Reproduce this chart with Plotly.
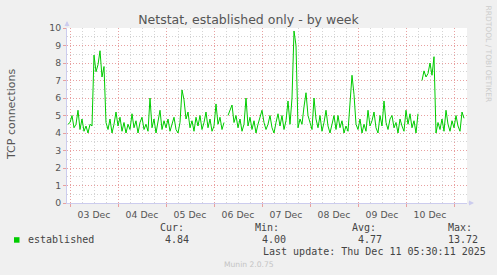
import pandas as pd
import plotly.graph_objects as go

# ---- data (hourly averages of established TCP connections) ----
start_time = "2025-12-02 23:00"
dec02 = [4.5]
dec03 = [4.6, 5.0, 4.3, 4.5, 5.3, 4.2, 4.8, 4.1, 4.4, 4.0, 4.5, 4.4,
         8.45, 7.5, 7.9, 8.7, 7.2, 7.8, 4.6, 4.2, 4.8, 4.0, 4.5, 5.2]
dec04 = [4.4, 4.9, 4.1, 4.6, 4.0, 4.5, 4.2, 5.1, 4.3, 4.7, 4.0, 4.6,
         4.9, 4.2, 4.5, 4.1, 6.0, 4.3, 4.8, 4.0, 4.6, 5.3, 4.2, 4.7]
dec05 = [4.3, 4.8, 4.1, 4.5, 4.9, 4.2, 4.0, 4.6, 6.46, 5.9, 4.8, 5.2,
         4.3, 4.7, 4.1, 4.9, 4.4, 5.0, 4.2, 4.6, 5.2, 4.3, 4.8, 4.1]
dec06 = [4.4, 5.66, 4.5, 4.9, 4.2, 4.6, None, 5.0, 5.3, 5.6, 4.6, 5.0,
         4.3, 4.8, 4.1, 4.5, 6.0, 4.4, 4.9, 4.2, 4.7, 4.0, 4.5, 4.9]
dec07 = [5.3, 4.6, 4.2, 4.5, 5.0, 4.3, 4.0, 4.6, 5.1, 4.4, 5.0, 4.2,
         4.7, 5.83, 4.5, 6.0, 9.83, 9.0, 4.3, 4.8, 4.5, 5.5, 6.3, 5.0]
dec08 = [4.6, 4.2, 6.0, 4.8, 4.3, 5.0, 4.1, 4.6, 5.3, 4.4, 4.0, 4.5,
         5.0, 4.2, 5.0, 4.3, 4.7, 4.0, 4.4, 4.1, 5.5, 7.3, 6.2, 4.5]
dec09 = [4.2, 4.8, 4.0, 4.5, 4.1, 5.3, 4.4, 4.7, 5.2, 4.3, 4.0, 5.0,
         4.4, 5.83, 4.6, 4.2, 4.8, 5.0, 4.3, 4.6, 4.0, 4.8, 4.4, 4.1]
dec10 = [5.3, 4.5, 5.1, 4.3, 4.7, 4.0, 5.1, None, 7.0, 7.55, 7.2, 7.4,
         8.0, 7.3, 8.36, 4.0, 4.6, 4.2, 4.8, 4.1, 5.3, 4.5, 4.1, 4.7]
dec11 = [4.3, 5.0, 4.4, 4.1, 5.2, 4.84]

series_name = "established"
stat_labels = ["Cur:", "Min:", "Avg:", "Max:"]
stat_values = ["4.84", "4.00", "4.77", "13.72"]
last_update = "Last update: Thu Dec 11 05:30:11 2025"

values = dec02 + dec03 + dec04 + dec05 + dec06 + dec07 + dec08 + dec09 + dec10 + dec11
times = pd.date_range(start_time, periods=len(values), freq="h")

# ---- geometry ----
W, H = 497, 275
L, R, T, B = 67, 30, 28, 72
PW, PH = W - L - R, H - T - B


def px(x):
    return (x - L) / PW


def py(y):
    return (H - B - y) / PH


GREEN = "#00CC00"
MONO = "DejaVu Sans Mono"
SANS = "DejaVu Sans"
TXT = "#555555"

fig = go.Figure()
fig.add_trace(go.Scatter(
    x=times, y=values, mode="lines", name=series_name,
    line=dict(color=GREEN, width=1), connectgaps=False, showlegend=False,
))

fig.update_layout(
    width=W, height=H,
    margin=dict(l=L, r=R, t=T, b=B, pad=0),
    paper_bgcolor="#F0F0F0",
    plot_bgcolor="#FFFFFF",
    showlegend=False,
    title=dict(text="Netstat, established only - by week",
               x=248.5 / W, xanchor="center", xref="container",
               y=1 - 19.5 / H, yanchor="middle", yref="container",
               font=dict(family=SANS, size=12.5, color=TXT)),
    font=dict(family=SANS, color=TXT),
)

fig.update_xaxes(
    type="date",
    range=["2025-12-02 22:30", "2025-12-11 06:30"],
    tick0="2025-12-03 00:00", dtick=86400000,
    tickformat="%d %b", ticklabelmode="period",
    tickfont=dict(family=SANS, size=9.3, color=TXT),
    ticks="outside", ticklen=3, tickcolor="#E8A0A0",
    showgrid=True, gridcolor="#E8A0A0", griddash="1px,2px", gridwidth=1,
    minor=dict(dtick=21600000, tick0="2025-12-03 00:00", showgrid=True,
               gridcolor="#D4D4D4", griddash="1px,2px", gridwidth=1),
    showline=True, linecolor="#CCCCEE", linewidth=1,
    zeroline=False, fixedrange=True,
)

fig.update_yaxes(
    range=[0, 10], tick0=0, dtick=1,
    tickfont=dict(family=SANS, size=9.3, color=TXT),
    ticks="outside", ticklen=3, tickcolor="#E8A0A0",
    showgrid=True, gridcolor="#E8A0A0", griddash="1px,2px", gridwidth=1,
    minor=dict(dtick=0.5, showgrid=True, gridcolor="#D4D4D4",
               griddash="1px,2px", gridwidth=1),
    showline=True, linecolor="#CCCCEE", linewidth=1,
    zeroline=False, fixedrange=True,
)

ann = []
# axis arrows
ann.append(dict(x=0, y=py(21), xref="paper", yref="paper", text="",
                showarrow=True, ax=0, ay=7, arrowhead=2, arrowsize=1,
                arrowwidth=1, arrowcolor="#CCCCEE"))
ann.append(dict(x=px(474), y=0, xref="paper", yref="paper", text="",
                showarrow=True, ax=-7, ay=0, arrowhead=2, arrowsize=1,
                arrowwidth=1, arrowcolor="#CCCCEE"))
# y axis title
ann.append(dict(x=px(11), y=py(114), xref="paper", yref="paper",
                text="TCP connections", textangle=-90, showarrow=False,
                xanchor="center", yanchor="middle",
                font=dict(family=SANS, size=11, color=TXT)))
# watermark
ann.append(dict(x=px(488), y=py(53.5), xref="paper", yref="paper",
                text="RRDTOOL / TOBI OETIKER", textangle=90, showarrow=False,
                xanchor="center", yanchor="middle",
                font=dict(family=SANS, size=7.5, color="#CCCCCC")))
# legend / stats
stat_x = [158.7, 254, 351, 446.7]
val_x = [164, 260.7, 356.7, 446.7]
for lbl, xx in zip(stat_labels, stat_x):
    ann.append(dict(x=px(xx), y=py(227.3), xref="paper", yref="paper",
                    text=lbl, showarrow=False, xanchor="left", yanchor="middle",
                    borderpad=0, font=dict(family=MONO, size=10, color="#444444")))
for v, xx in zip(stat_values, val_x):
    ann.append(dict(x=px(xx), y=py(239.3), xref="paper", yref="paper",
                    text=v, showarrow=False, xanchor="left", yanchor="middle",
                    borderpad=0, font=dict(family=MONO, size=10, color="#444444")))
ann.append(dict(x=px(26.5), y=py(239.3), xref="paper", yref="paper",
                text=series_name, showarrow=False, xanchor="left", yanchor="middle",
                borderpad=0, font=dict(family=MONO, size=10, color="#444444")))
ann.append(dict(x=px(261.7), y=py(251.7), xref="paper", yref="paper",
                text=last_update, showarrow=False, xanchor="left", yanchor="middle",
                borderpad=0, font=dict(family=MONO, size=10, color="#444444")))
ann.append(dict(x=px(223), y=py(264), xref="paper", yref="paper",
                text="Munin 2.0.75", showarrow=False, xanchor="left", yanchor="middle",
                borderpad=0, font=dict(family=SANS, size=7.6, color="#C4C4C4")))
fig.update_layout(annotations=ann)

# legend colour swatch
fig.add_shape(type="rect", xref="paper", yref="paper",
              x0=px(14), x1=px(19.5), y0=py(242.7), y1=py(237.2),
              fillcolor=GREEN, line=dict(width=0))

fig.write_html("out.html")
